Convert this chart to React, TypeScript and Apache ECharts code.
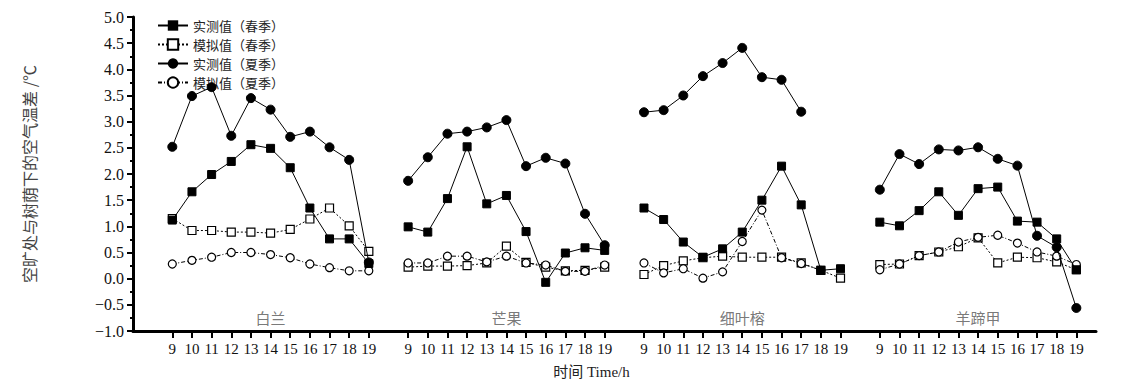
import React, { useEffect, useRef } from "react";
import * as echarts from "echarts";

const groups = ["白兰", "芒果", "细叶榕", "羊蹄甲"];
const hours = ["9", "10", "11", "12", "13", "14", "15", "16", "17", "18", "19"];

// 实测值（春季）
const springMeasured = [
  [1.12, 1.66, 1.99, 2.24, 2.56, 2.49, 2.12, 1.35, 0.76, 0.76, 0.29],
  [0.99, 0.89, 1.53, 2.52, 1.43, 1.59, 0.9, -0.07, 0.49, 0.59, 0.54],
  [1.35, 1.13, 0.7, 0.41, 0.57, 0.89, 1.5, 2.15, 1.41, 0.16, 0.19],
  [1.08, 1.01, 1.3, 1.66, 1.21, 1.72, 1.75, 1.1, 1.08, 0.76, 0.17],
];
// 模拟值（春季）
const springSimulated = [
  [1.15, 0.92, 0.92, 0.89, 0.89, 0.87, 0.94, 1.14, 1.35, 1.01, 0.52],
  [0.22, 0.24, 0.24, 0.25, 0.3, 0.62, 0.31, 0.22, 0.15, 0.16, 0.22],
  [0.08, 0.25, 0.34, 0.4, 0.43, 0.41, 0.41, 0.41, 0.3, 0.16, 0.01],
  [0.27, 0.28, 0.44, 0.51, 0.61, 0.78, 0.3, 0.41, 0.4, 0.32, 0.17],
];
// 实测值（夏季）
const summerMeasured = [
  [2.52, 3.49, 3.66, 2.73, 3.45, 3.23, 2.71, 2.81, 2.51, 2.27, 0.31],
  [1.87, 2.32, 2.77, 2.81, 2.89, 3.03, 2.15, 2.31, 2.2, 1.24, 0.64],
  [3.18, 3.22, 3.5, 3.87, 4.12, 4.41, 3.85, 3.8, 3.19, null, null],
  [1.7, 2.38, 2.19, 2.47, 2.45, 2.51, 2.29, 2.16, 0.82, 0.6, -0.56],
];
// 模拟值（夏季）
const summerSimulated = [
  [0.28, 0.35, 0.41, 0.5, 0.5, 0.46, 0.4, 0.28, 0.21, 0.15, 0.15],
  [0.3, 0.3, 0.43, 0.43, 0.32, 0.43, 0.3, 0.26, 0.14, 0.14, 0.26],
  [0.3, 0.11, 0.19, 0.01, 0.13, 0.71, 1.31, 0.4, 0.29, 0.16, null],
  [0.17, 0.28, 0.44, 0.51, 0.7, 0.79, 0.83, 0.68, 0.51, 0.43, 0.27],
];

const groupLabelY = -0.75;
const yTicks = { min: -1, max: 5, interval: 0.5 };

const serif = "'Liberation Serif', 'Times New Roman', 'Noto Sans CJK SC', serif";
const cjk = "'Noto Sans CJK SC', 'Liberation Serif', sans-serif";

function buildCategories(): string[] {
  const cats: string[] = ["", ""];
  groups.forEach((_, g) => {
    hours.forEach((h) => cats.push(h));
    if (g < groups.length - 1) cats.push("");
  });
  cats.push("");
  return cats;
}

function flatten(groupsData: (number | null)[][]): (number | null)[] {
  const out: (number | null)[] = [null, null];
  groupsData.forEach((arr, g) => {
    arr.forEach((v) => out.push(v));
    if (g < groupsData.length - 1) out.push(null);
  });
  out.push(null);
  return out;
}

export default function App() {
  const ref = useRef<HTMLDivElement>(null);
  useEffect(() => {
    document.body.style.margin = "0";
    if (!ref.current) return;
    const chart = echarts.init(ref.current, undefined, { renderer: "svg" });
    const cats = buildCategories();
    const labelData = flatten(
      groups.map((_, g) => hours.map((h) => (h === "14" ? groupLabelY : null)))
    );
    const groupNameAt: Record<number, string> = {};
    {
      let idx = 0;
      labelData.forEach((v, i) => {
        if (v !== null) {
          groupNameAt[i] = groups[idx];
          idx++;
        }
      });
    }
    const black = "#000";
    const option: any = {
      animation: false,
      backgroundColor: "#fff",
      grid: { left: 133, right: 30, top: 17, bottom: 54, containLabel: false },
      legend: {
        orient: "vertical",
        left: 152,
        top: 14,
        itemGap: 6,
        itemWidth: 30,
        itemHeight: 13,
        textStyle: { fontFamily: cjk, fontSize: 13, lineHeight: 13, color: "#222" },
        data: ["实测值（春季）", "模拟值（春季）", "实测值（夏季）", "模拟值（夏季）"],
      },
      xAxis: {
        type: "category",
        data: cats,
        boundaryGap: false,
        name: "时间 Time/h",
        nameLocation: "middle",
        nameGap: 33,
        nameTextStyle: {
          fontFamily: serif,
          fontSize: 15,
          color: "#222",
          padding: [0, 46, 0, 0],
        },
        axisLine: { onZero: false, lineStyle: { color: black, width: 3 } },
        axisTick: {
          show: true,
          length: 7,
          lineStyle: { color: black, width: 2 },
          interval: (i: number, v: string) => v !== "",
        },
        axisLabel: {
          interval: (i: number, v: string) => v !== "",
          fontFamily: serif,
          fontSize: 15,
          color: "#111",
          margin: 10,
        },
        splitLine: { show: false },
      },
      yAxis: {
        type: "value",
        min: yTicks.min,
        max: yTicks.max,
        interval: yTicks.interval,
        name: "空旷处与树荫下的空气温差 /℃",
        nameLocation: "middle",
        nameRotate: 90,
        nameGap: 96,
        nameTextStyle: { fontFamily: cjk, fontSize: 16, color: "#444" },
        axisLine: { show: true, onZero: false, lineStyle: { color: black, width: 3 } },
        axisTick: { show: true, length: 6, lineStyle: { color: black, width: 2 } },
        minorTick: { show: true, splitNumber: 2, length: 3, lineStyle: { color: black, width: 2 } },
        axisLabel: {
          fontFamily: serif,
          fontSize: 16,
          color: "#111",
          margin: 9,
          formatter: (v: number) => (v < 0 ? "−" + Math.abs(v).toFixed(1) : v.toFixed(1)),
        },
        splitLine: { show: false },
      },
      series: [
        {
          name: "实测值（春季）",
          type: "line",
          data: flatten(springMeasured),
          symbol: "rect",
          symbolSize: 8,
          itemStyle: { color: black, borderColor: black },
          lineStyle: { color: black, width: 1 },
          z: 4,
        },
        {
          name: "模拟值（春季）",
          type: "line",
          data: flatten(springSimulated),
          symbol: "rect",
          symbolSize: 8,
          itemStyle: { color: "#fff", borderColor: black, borderWidth: 1.2 },
          lineStyle: { color: black, width: 1, type: [2, 2] },
          z: 3,
        },
        {
          name: "实测值（夏季）",
          type: "line",
          data: flatten(summerMeasured),
          symbol: "circle",
          symbolSize: 9,
          itemStyle: { color: black, borderColor: black },
          lineStyle: { color: black, width: 1 },
          z: 4,
        },
        {
          name: "模拟值（夏季）",
          type: "line",
          data: flatten(summerSimulated),
          symbol: "circle",
          symbolSize: 8,
          itemStyle: { color: "#fff", borderColor: black, borderWidth: 1.2 },
          lineStyle: { color: black, width: 1, type: [4, 2, 1, 2] },
          z: 3,
        },
        {
          name: "组",
          type: "scatter",
          data: labelData,
          symbolSize: 1,
          itemStyle: { color: "rgba(0,0,0,0)" },
          silent: true,
          label: {
            show: true,
            position: "inside",
            fontFamily: cjk,
            fontSize: 15,
            color: "#555",
            formatter: (p: any) => groupNameAt[p.dataIndex] || "",
          },
        },
      ],
    };
    chart.setOption(option);
    return () => chart.dispose();
  }, []);
  return <div ref={ref} style={{ width: 1126, height: 385 }} />;
}
